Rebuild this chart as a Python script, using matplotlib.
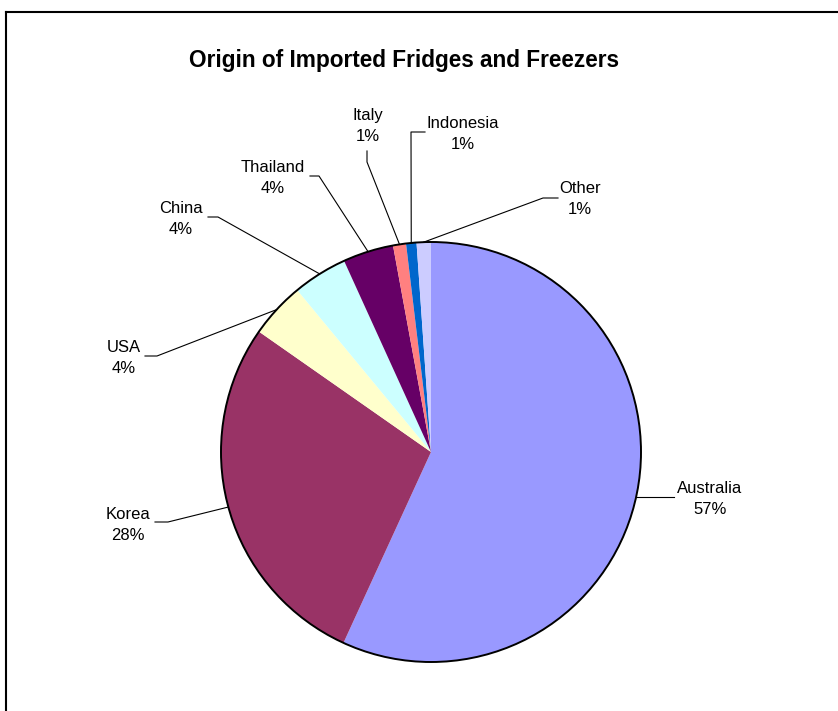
import matplotlib
matplotlib.use("Agg")
import matplotlib.pyplot as plt
import numpy as np
from matplotlib.lines import Line2D

categories = ["Australia", "Korea", "USA", "China", "Thailand", "Italy", "Indonesia", "Other"]
shares = [56.9, 27.9, 4.3, 4.2, 3.9, 1.0, 0.8, 1.1]
pct_labels = ["57%", "28%", "4%", "4%", "4%", "1%", "1%", "1%"]
colors = ["#9999FF", "#993366", "#FFFFCC", "#CCFFFF", "#660066", "#FF8080", "#0066CC", "#CCCCFF"]
title = "Origin of Imported Fridges and Freezers"

# layout (pixel coords in the 838x711 canvas): text centre, leader elbow, leader end
W, H = 838, 711
CX, CY, R = 431, 452, 210
text_px = [(710, 499), (128, 525), (124, 358), (181, 219), (273, 178), (368, 126), (463, 134), (580, 199)]
elbow_px = [(674, None), (168, 522), (157, 356), (218, 217), (319, 176), (367, 162), (411, 132), (543, 198)]
end_px = [(674, None), (155, 522), (145, 356), (208, 217), (310, 176), (367, 151), (425, 132), (558, 198)]


def to_data(px, py):
    return (px - CX) / R, (CY - py) / R


plt.rcParams['font.family'] = ['Liberation Sans', 'DejaVu Sans']
fig = plt.figure(figsize=(W / 100, H / 100), dpi=100)
ax = fig.add_axes([0, 0, 1, 1])

wedges, _ = ax.pie(shares, colors=colors, startangle=90, counterclock=False,
                   radius=1.0, center=(0, 0), wedgeprops=dict(linewidth=0))
ax.add_patch(plt.Circle((0, 0), 1.0, fill=False, edgecolor='black', linewidth=1.4, zorder=5))
ax.set_xlim(-CX / R, (W - CX) / R)
ax.set_ylim((CY - H) / R, CY / R)
ax.set_aspect('equal')
ax.axis('off')

for i, w in enumerate(wedges):
    mid = np.deg2rad((w.theta1 + w.theta2) / 2)
    ax_, ay_ = np.cos(mid), np.sin(mid)
    ex, ey = elbow_px[i]
    nx, ny = end_px[i]
    exd, eyd = to_data(ex, ey if ey is not None else CY - ay_ * R)
    nxd, nyd = to_data(nx, ny if ny is not None else CY - ay_ * R)
    ax.plot([ax_, exd, nxd], [ay_, eyd, nyd], color='black', linewidth=0.8, zorder=6)
    tx, ty = to_data(*text_px[i])
    ax.text(tx, ty, f"{categories[i]}\n{pct_labels[i]}", ha='center', va='center',
            fontsize=12, linespacing=1.45, color='black')

fig.text(404 / W, 1 - 67 / H, title, ha='center', va='baseline', fontsize=16.3, fontweight='bold')

# chart area frame (left and top edges visible)
fig.add_artist(Line2D([6 / W, 6 / W], [0, 1 - 12 / H], color='black', linewidth=1.5, transform=fig.transFigure))
fig.add_artist(Line2D([6 / W, 1], [1 - 12 / H, 1 - 12 / H], color='black', linewidth=1.5, transform=fig.transFigure))

fig.savefig("out.png", dpi=100)
